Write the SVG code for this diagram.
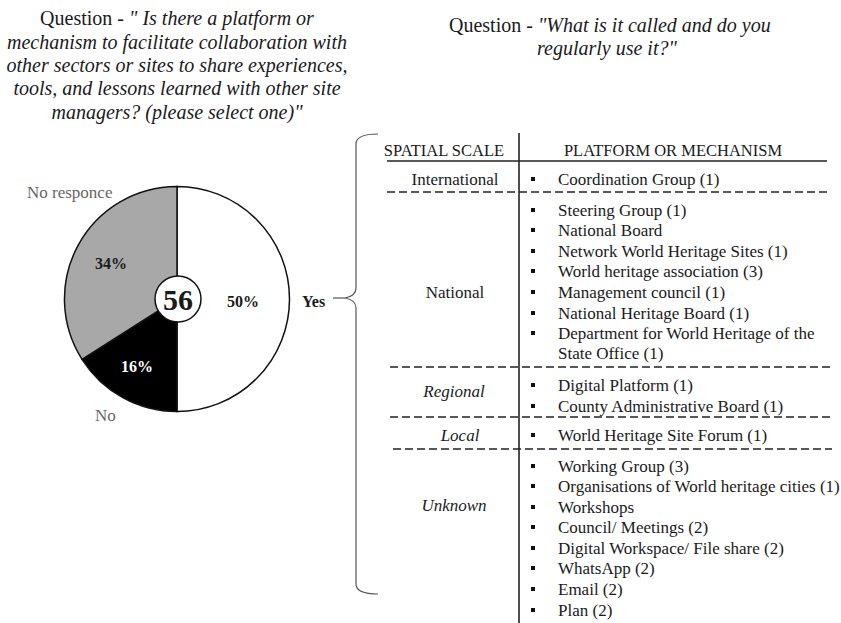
<svg xmlns="http://www.w3.org/2000/svg" width="841" height="623" viewBox="0 0 841 623">
<style>
text{font-family:"Liberation Serif","Times New Roman",serif;fill:#1a1a1a}
.t{font-size:20px}
.i{font-style:italic}
.gl{font-size:17px;fill:#666}
.pct{font-size:16px;font-weight:bold}
.h{font-size:16.5px}
.c{font-size:17px}
.dash{stroke:#222;stroke-width:1.3;stroke-dasharray:8 4;fill:none}
.sol{stroke:#222;stroke-width:1.6;fill:none}
.b{fill:#111}
</style>
<rect width="841" height="623" fill="#fff"/>
<g id="title-left" class="t" text-anchor="middle">
<text x="177" y="25">Question - <tspan class="i">" Is there a platform or</tspan></text>
<text x="177" y="49" class="i">mechanism to facilitate collaboration with</text>
<text x="177" y="72" class="i">other sectors or sites to share experiences,</text>
<text x="177" y="95" class="i">tools, and lessons learned with other site</text>
<text x="177" y="119" class="i">managers? (please select one)"</text>
</g>
<g id="title-right" class="t">
<text x="449" y="32">Question - <tspan class="i">"What is it called and do you</tspan></text>
<text x="537" y="55" class="i">regularly use it?"</text>
</g>
<g id="pie">
<path d="M177,299 L177,186.5 A112.5,112.5 0 0 1 177,411.5 Z" fill="#fff" stroke="#111" stroke-width="1.5"/>
<path d="M177,299 L177,411.5 A112.5,112.5 0 0 1 82,359.3 Z" fill="#000" stroke="#111" stroke-width="1.5"/>
<path d="M177,299 L82,359.3 A112.5,112.5 0 0 1 177,186.5 Z" fill="#a8a8a8" stroke="#111" stroke-width="1.5"/>
<circle cx="178" cy="299" r="23" fill="#fff" stroke="#111" stroke-width="1.5"/>
<text x="178" y="310" text-anchor="middle" style="font-size:30px;font-weight:bold">56</text>
<text x="111" y="269" text-anchor="middle" class="pct">34%</text>
<text x="137" y="372" text-anchor="middle" class="pct" style="fill:#fff">16%</text>
<text x="243" y="307" text-anchor="middle" class="pct">50%</text>
</g>
<g id="label-noresp"><text x="27" y="198" class="gl">No responce</text></g>
<g id="label-no"><text x="95" y="421" class="gl">No</text></g>
<g id="label-yes"><text x="302" y="307" class="pct">Yes</text></g>
<g id="connectors">
<line x1="333" y1="298" x2="345" y2="298" stroke="#555" stroke-width="1.2"/>
<path d="M378,134 Q356,134 356,144 L356,288 Q356,296 345,298 Q356,300 356,308 L356,584 Q356,594 378,594" fill="none" stroke="#555" stroke-width="1.2"/>
</g>
<g id="table">
<line x1="519" y1="133" x2="519" y2="623" class="sol"/>
<line x1="387" y1="161" x2="827" y2="161" class="sol"/>
<line x1="387" y1="192" x2="827" y2="192" class="dash"/>
<line x1="390" y1="367" x2="830" y2="367" class="dash"/>
<line x1="390" y1="417" x2="830" y2="417" class="dash"/>
<line x1="393" y1="449" x2="832" y2="449" class="dash"/>
<g class="h" text-anchor="middle">
<text x="444" y="156">SPATIAL SCALE</text>
<text x="673" y="156">PLATFORM  OR MECHANISM</text>
</g>
<g class="c" text-anchor="middle">
<text x="455" y="185">International</text>
<text x="455" y="298">National</text>
<text x="454" y="397" class="i">Regional</text>
<text x="460" y="441" class="i">Local</text>
<text x="454" y="511" class="i">Unknown</text>
</g>
<g class="c">
<text x="558" y="185">Coordination Group (1)</text>
<text x="558" y="216">Steering Group (1)</text>
<text x="558" y="236">National Board</text>
<text x="558" y="257">Network World Heritage  Sites (1)</text>
<text x="558" y="277">World heritage association (3)</text>
<text x="558" y="298">Management  council (1)</text>
<text x="558" y="319">National Heritage Board (1)</text>
<text x="558" y="339">Department  for World Heritage  of the</text>
<text x="558" y="359">State Office (1)</text>
<text x="558" y="391">Digital  Platform (1)</text>
<text x="558" y="412">County Administrative  Board (1)</text>
<text x="558" y="441">World Heritage  Site Forum (1)</text>
<text x="558" y="472">Working Group (3)</text>
<text x="558" y="492">Organisations of World heritage cities (1)</text>
<text x="558" y="513">Workshops</text>
<text x="558" y="533">Council/ Meetings  (2)</text>
<text x="558" y="554">Digital  Workspace/ File share (2)</text>
<text x="558" y="574">WhatsApp  (2)</text>
<text x="558" y="595">Email (2)</text>
<text x="558" y="616">Plan (2)</text>
</g>
<g class="b">
<rect x="531" y="177" width="4" height="4"/>
<rect x="531" y="208" width="4" height="4"/>
<rect x="531" y="228" width="4" height="4"/>
<rect x="531" y="249" width="4" height="4"/>
<rect x="531" y="269" width="4" height="4"/>
<rect x="531" y="290" width="4" height="4"/>
<rect x="531" y="311" width="4" height="4"/>
<rect x="531" y="331" width="4" height="4"/>
<rect x="531" y="383" width="4" height="4"/>
<rect x="531" y="404" width="4" height="4"/>
<rect x="531" y="433" width="4" height="4"/>
<rect x="531" y="464" width="4" height="4"/>
<rect x="531" y="484" width="4" height="4"/>
<rect x="531" y="505" width="4" height="4"/>
<rect x="531" y="525" width="4" height="4"/>
<rect x="531" y="546" width="4" height="4"/>
<rect x="531" y="566" width="4" height="4"/>
<rect x="531" y="587" width="4" height="4"/>
<rect x="531" y="608" width="4" height="4"/>
</g>
</g>
</svg>
